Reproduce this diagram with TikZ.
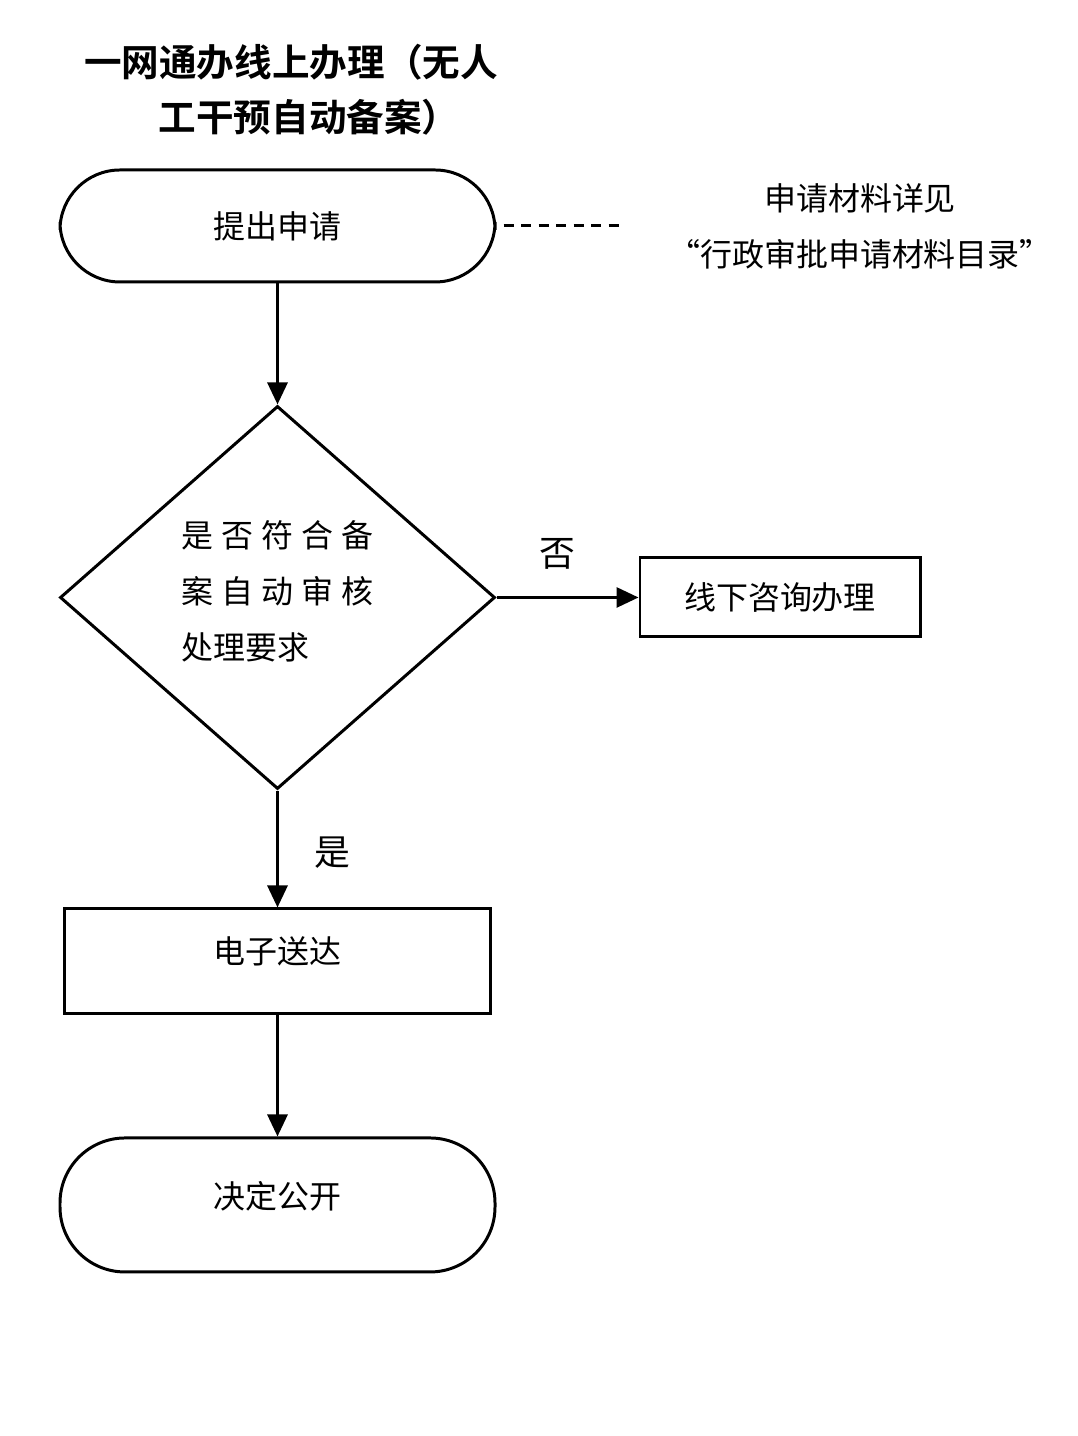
\documentclass[tikz,border=0pt]{standalone}
\usepackage{fontspec}
\setmainfont{Noto Sans CJK SC}[BoldFont={Noto Sans CJK SC Bold}]
\usetikzlibrary{positioning,arrows.meta,shapes.geometric}
\newcommand{\qg}{\hspace{0.08cm}}

\begin{document}
\begin{tikzpicture}[
  term/.style={draw, line width=0.85pt, rounded corners=0.6cm, minimum width=4.35cm, align=center, font=\fontsize{9.1pt}{15.9pt}\selectfont},
  stepbox/.style={draw, line width=0.85pt, align=center, font=\fontsize{9.1pt}{15.9pt}\selectfont},
  decide/.style={draw, diamond, line width=0.85pt, minimum width=4.35cm, minimum height=3.83cm, inner sep=0pt},
  arr/.style={-{Triangle[length=0.22cm, width=0.2cm]}, line width=0.85pt},
  dashln/.style={line width=0.85pt, dash pattern=on 0.1cm off 0.075cm},
  lbl/.style={font=\fontsize{10.2pt}{12pt}\selectfont},
  node distance=1.2cm]
\useasboundingbox (0,0) rectangle (10.78,-14.36);
\node[font=\bfseries\fontsize{10.7pt}{15.6pt}\selectfont, align=center] (title) at (2.91,-0.895) {一网通办线上办理（无人\\\hspace*{0.36cm}工干预自动备案）};
\node[term, minimum height=1.12cm] (start) at (2.775,-2.26) {提出申请};
\node[decide, below=1.21cm of start] (chk) {};
\node[align=left, font=\fontsize{9.1pt}{15.9pt}\selectfont] (chktxt) at ([yshift=0.06cm]chk.center) {是\qg{}否\qg{}符\qg{}合\qg{}备\\案\qg{}自\qg{}动\qg{}审\qg{}核\\处理要求};
\node[stepbox, minimum width=2.8cm, minimum height=0.79cm, right=1.42cm of chk] (offline) {线下咨询办理};
\node[stepbox, minimum width=4.26cm, minimum height=1.05cm, text height=0.2cm, text depth=0.15cm, below=1.17cm of chk] (send) {电子送达};
\node[term, minimum height=1.34cm, rounded corners=0.65cm, text height=0.21cm, text depth=0.14cm, below=1.21cm of send] (pub) {决定公开};
\node[align=center, font=\fontsize{9.1pt}{15.9pt}\selectfont] (note) at (8.6,-2.26) {申请材料详见\\“行政审批申请材料目录”};
\coordinate[right=1.27cm of start.east] (dend);
\draw[dashln] ([xshift=0.07cm]start.east) -- (dend);
\draw[arr] (start) -- (chk);
\draw[arr] (chk) -- node[lbl, midway, above=0.15cm, xshift=-0.1cm] (no) {否} (offline);
\draw[arr] (chk) -- node[lbl, midway, right=0.24cm, yshift=-0.04cm] (yes) {是} (send);
\draw[arr] (send) -- (pub);
\end{tikzpicture}
\end{document}
